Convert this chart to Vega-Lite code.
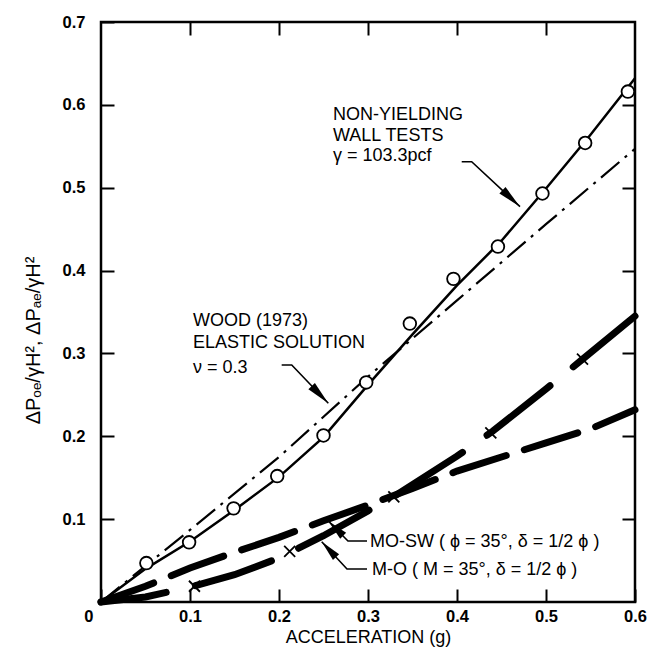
{
  "$schema": "https://vega.github.io/schema/vega-lite/v6.json",
  "width": 534,
  "height": 580,
  "autosize": {"type": "none"},
  "padding": {"left": 101, "top": 22, "right": 14, "bottom": 56},
  "background": "white",
  "config": {
    "view": {"stroke": "black", "strokeWidth": 2.5},
    "font": "Liberation Sans",
    "axis": {"grid": false}
  },
  "datasets": {
    "curves": [
      {"s": "wood", "x": 0, "y": 0},
      {"s": "wood", "x": 0.1, "y": 0.087},
      {"s": "wood", "x": 0.2, "y": 0.175},
      {"s": "wood", "x": 0.3, "y": 0.272},
      {"s": "wood", "x": 0.4, "y": 0.364},
      {"s": "wood", "x": 0.5, "y": 0.456},
      {"s": "wood", "x": 0.6, "y": 0.547},
      {"s": "tests", "x": 0, "y": 0},
      {"s": "tests", "x": 0.05, "y": 0.04},
      {"s": "tests", "x": 0.1, "y": 0.073},
      {"s": "tests", "x": 0.15, "y": 0.111},
      {"s": "tests", "x": 0.2, "y": 0.151},
      {"s": "tests", "x": 0.25, "y": 0.199},
      {"s": "tests", "x": 0.3, "y": 0.262},
      {"s": "tests", "x": 0.35, "y": 0.323},
      {"s": "tests", "x": 0.4, "y": 0.382},
      {"s": "tests", "x": 0.45, "y": 0.436},
      {"s": "tests", "x": 0.5, "y": 0.499},
      {"s": "tests", "x": 0.55, "y": 0.564},
      {"s": "tests", "x": 0.6, "y": 0.632},
      {"s": "mosw", "x": 0, "y": 0},
      {"s": "mosw", "x": 0.05, "y": 0.019},
      {"s": "mosw", "x": 0.1, "y": 0.041},
      {"s": "mosw", "x": 0.15, "y": 0.06},
      {"s": "mosw", "x": 0.2, "y": 0.078},
      {"s": "mosw", "x": 0.25, "y": 0.098},
      {"s": "mosw", "x": 0.3, "y": 0.117},
      {"s": "mosw", "x": 0.35, "y": 0.137},
      {"s": "mosw", "x": 0.4, "y": 0.158},
      {"s": "mosw", "x": 0.45, "y": 0.175},
      {"s": "mosw", "x": 0.5, "y": 0.192},
      {"s": "mosw", "x": 0.55, "y": 0.209},
      {"s": "mosw", "x": 0.6, "y": 0.232},
      {"s": "mo", "x": 0, "y": 0},
      {"s": "mo", "x": 0.05, "y": 0.006},
      {"s": "mo", "x": 0.1, "y": 0.018},
      {"s": "mo", "x": 0.15, "y": 0.033},
      {"s": "mo", "x": 0.2, "y": 0.053},
      {"s": "mo", "x": 0.25, "y": 0.08},
      {"s": "mo", "x": 0.3, "y": 0.11},
      {"s": "mo", "x": 0.33, "y": 0.128},
      {"s": "mo", "x": 0.4, "y": 0.176},
      {"s": "mo", "x": 0.44, "y": 0.206},
      {"s": "mo", "x": 0.5, "y": 0.257},
      {"s": "mo", "x": 0.54, "y": 0.292},
      {"s": "mo", "x": 0.6, "y": 0.345}
    ],
    "circles": [
      {"x": 0.051, "y": 0.047},
      {"x": 0.099, "y": 0.072},
      {"x": 0.149, "y": 0.113},
      {"x": 0.198, "y": 0.152},
      {"x": 0.25, "y": 0.201},
      {"x": 0.298, "y": 0.265},
      {"x": 0.347, "y": 0.336},
      {"x": 0.396, "y": 0.39},
      {"x": 0.446, "y": 0.429},
      {"x": 0.496, "y": 0.493},
      {"x": 0.544, "y": 0.554},
      {"x": 0.592, "y": 0.616}
    ],
    "crosses": [
      {"x": 0.105, "y": 0.019},
      {"x": 0.212, "y": 0.061},
      {"x": 0.329, "y": 0.127},
      {"x": 0.438, "y": 0.204},
      {"x": 0.541, "y": 0.293}
    ],
    "labels": [
      {"t": "NON-YIELDING", "x": 0.2607, "y": 0.5817},
      {"t": "WALL TESTS", "x": 0.2607, "y": 0.5564},
      {"t": "γ = 103.3pcf", "x": 0.2607, "y": 0.5322},
      {"t": "WOOD (1973)", "x": 0.1034, "y": 0.333},
      {"t": "ELASTIC SOLUTION", "x": 0.1034, "y": 0.3065},
      {"t": "ν = 0.3", "x": 0.1034, "y": 0.2764},
      {"t": "MO-SW ( ϕ = 35°,  δ = 1/2 ϕ )", "x": 0.3022, "y": 0.0664},
      {"t": "M-O ( M = 35°,  δ = 1/2 ϕ )", "x": 0.3045, "y": 0.0326}
    ],
    "arrows": [
      {"a": "ny", "k": 1, "x": 0.4053, "y": 0.5314},
      {"a": "ny", "k": 2, "x": 0.4165, "y": 0.5314},
      {"a": "ny", "k": 3, "x": 0.4708, "y": 0.4771},
      {"a": "wood", "k": 1, "x": 0.203, "y": 0.286},
      {"a": "wood", "k": 2, "x": 0.2143, "y": 0.286},
      {"a": "wood", "k": 3, "x": 0.2554, "y": 0.2398},
      {"a": "mosw", "k": 1, "x": 0.2989, "y": 0.0736},
      {"a": "mosw", "k": 2, "x": 0.2775, "y": 0.0736},
      {"a": "mosw", "k": 3, "x": 0.2554, "y": 0.0978},
      {"a": "mo", "k": 1, "x": 0.2989, "y": 0.0398},
      {"a": "mo", "k": 2, "x": 0.2764, "y": 0.0398},
      {"a": "mo", "k": 3, "x": 0.248, "y": 0.0728}
    ],
    "heads": [
      {"a": "ny", "x": 0.4708, "y": 0.4771},
      {"a": "wood", "x": 0.2554, "y": 0.2398},
      {"a": "mosw", "x": 0.2554, "y": 0.0978},
      {"a": "mo", "x": 0.248, "y": 0.0728}
    ]
  },
  "resolve": {"axis": {"x": "independent", "y": "independent"}},
  "encoding": {
    "x": {"field": "x", "type": "quantitative", "scale": {"domain": [0, 0.6], "nice": false, "zero": false}, "axis": null},
    "y": {"field": "y", "type": "quantitative", "scale": {"domain": [0, 0.7], "nice": false, "zero": false}, "axis": null}
  },
  "layer": [
    {
      "data": {"name": "curves"},
      "transform": [{"filter": "datum.s === 'wood'"}],
      "mark": {"type": "line", "color": "black", "strokeWidth": 2.2, "strokeDash": [24, 7, 3, 7]},
      "encoding": {
        "x": {"field": "x", "type": "quantitative", "scale": {"domain": [0, 0.6], "nice": false, "zero": false},
          "axis": {"orient": "top", "values": [0.1, 0.2, 0.3, 0.4, 0.5], "labels": false, "domain": false, "tickSize": -13, "tickWidth": 2, "tickColor": "black", "title": null}},
        "y": {"field": "y", "type": "quantitative", "scale": {"domain": [0, 0.7], "nice": false, "zero": false},
          "axis": {"orient": "right", "values": [0.1, 0.2, 0.3, 0.4, 0.5, 0.6], "labels": false, "domain": false, "tickSize": -13, "tickWidth": 2, "tickColor": "black", "title": null}}
      }
    },
    {
      "data": {"name": "curves"},
      "transform": [{"filter": "datum.s === 'tests'"}],
      "mark": {"type": "line", "color": "black", "strokeWidth": 2.5},
      "encoding": {
        "x": {"field": "x", "type": "quantitative", "scale": {"domain": [0, 0.6], "nice": false, "zero": false},
          "axis": {"orient": "bottom", "values": [0, 0.1, 0.2, 0.3, 0.4, 0.5, 0.6], "format": ".1f",
            "labelExpr": "datum.value === 0 ? '0' : datum.label",
            "labelFlush": false, "domain": false, "tickSize": -13, "tickWidth": 2, "tickColor": "black",
            "labelPadding": 19, "labelFontSize": 16.5, "labelFontWeight": "bold", "labelColor": "black", "labelBaseline": "top",
            "labelAlign": {"condition": {"test": "datum.value === 0", "value": "right"}, "value": "center"},
            "labelOffset": {"condition": {"test": "datum.value === 0", "value": -8}, "value": 0},
            "title": "ACCELERATION (g)", "titleFontSize": 18, "titleFontWeight": "normal", "titleColor": "black",
            "titleY": 40, "titleBaseline": "alphabetic"}},
        "y": {"field": "y", "type": "quantitative", "scale": {"domain": [0, 0.7], "nice": false, "zero": false},
          "axis": {"orient": "left", "values": [0.1, 0.2, 0.3, 0.4, 0.5, 0.6, 0.7], "format": ".1f",
            "labelFlush": false, "domain": false, "tickSize": -13, "tickWidth": 2, "tickColor": "black",
            "labelPadding": 29, "labelFontSize": 16.5, "labelFontWeight": "bold", "labelColor": "black",
            "title": "ΔPₒₑ/γH², ΔPₐₑ/γH²", "titleFontSize": 20, "titleFontWeight": "normal", "titleColor": "black",
            "titleAngle": -90, "titleX": -68, "titleY": 318, "titleBaseline": "middle", "titleAlign": "center"}}
      }
    },
    {
      "data": {"name": "curves"},
      "transform": [{"filter": "datum.s === 'mosw'"}],
      "mark": {"type": "line", "color": "black", "strokeWidth": 7, "strokeCap": "round", "strokeDash": [56, 19]},
      "encoding": {}
    },
    {
      "data": {"name": "curves"},
      "transform": [{"filter": "datum.s === 'mo'"}],
      "mark": {"type": "line", "color": "black", "strokeWidth": 7, "strokeCap": "round", "strokeDash": [80, 30], "strokeDashOffset": 14},
      "encoding": {}
    },
    {
      "data": {"name": "circles"},
      "mark": {"type": "point", "shape": "circle", "size": 160, "filled": false, "fill": "white", "fillOpacity": 1, "stroke": "black", "strokeWidth": 1.8, "opacity": 1},
      "encoding": {}
    },
    {
      "data": {"name": "crosses"},
      "mark": {"type": "point", "shape": "M-1,-1L1,1M-1,1L1,-1", "size": 121, "filled": false, "stroke": "black", "strokeWidth": 1.8, "opacity": 1},
      "encoding": {}
    },
    {
      "data": {"name": "labels"},
      "mark": {"type": "text", "align": "left", "baseline": "alphabetic", "fontSize": 18, "color": "black"},
      "encoding": {"text": {"field": "t"}}
    },
    {
      "data": {"name": "arrows"},
      "mark": {"type": "line", "color": "black", "strokeWidth": 1.6},
      "encoding": {"detail": {"field": "a"}, "order": {"field": "k"}}
    },
    {
      "data": {"name": "heads"},
      "transform": [{"filter": "datum.a === 'ny'"}],
      "mark": {"type": "point", "shape": "M0,0L0.375,2L-0.375,2Z", "size": 576, "filled": true, "color": "black", "opacity": 1, "angle": 133},
      "encoding": {}
    },
    {
      "data": {"name": "heads"},
      "transform": [{"filter": "datum.a === 'wood'"}],
      "mark": {"type": "point", "shape": "M0,0L0.375,2L-0.375,2Z", "size": 576, "filled": true, "color": "black", "opacity": 1, "angle": 136},
      "encoding": {}
    },
    {
      "data": {"name": "heads"},
      "transform": [{"filter": "datum.a === 'mosw'"}],
      "mark": {"type": "point", "shape": "M0,0L0.4,2L-0.4,2Z", "size": 441, "filled": true, "color": "black", "opacity": 1, "angle": 315},
      "encoding": {}
    },
    {
      "data": {"name": "heads"},
      "transform": [{"filter": "datum.a === 'mo'"}],
      "mark": {"type": "point", "shape": "M0,0L0.4,2L-0.4,2Z", "size": 441, "filled": true, "color": "black", "opacity": 1, "angle": 317},
      "encoding": {}
    }
  ]
}
